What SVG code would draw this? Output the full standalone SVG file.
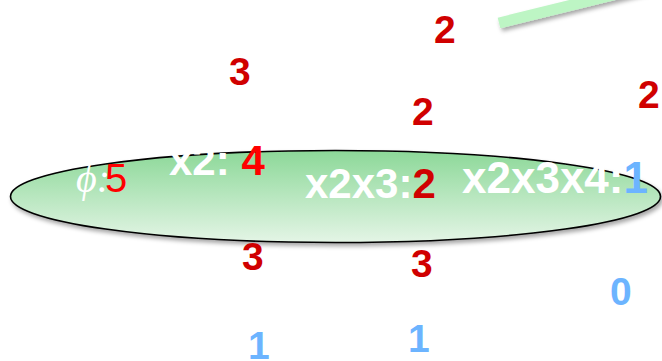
<svg xmlns="http://www.w3.org/2000/svg" width="662" height="361" viewBox="0 0 662 361">
  <defs>
    <linearGradient id="g" x1="0" y1="0" x2="0" y2="1">
      <stop offset="0" stop-color="#8cd898"/>
      <stop offset="1" stop-color="#e4f5e6"/>
    </linearGradient>
    <filter id="sh" x="-10%" y="-30%" width="120%" height="170%">
      <feDropShadow dx="2" dy="3" stdDeviation="2" flood-color="#000" flood-opacity="0.35"/>
    </filter>
  </defs>
  <style>
    .b { font-family: "Liberation Sans", Arial, sans-serif; font-weight: bold; font-size: 39px; }
    .in { font-size: 42px; }
    .in2 { font-size: 44px; }
    .w { fill: #ffffff; }
    .dr { fill: #d00000; }
    .r { fill: #ff0000; }
    .bl { fill: #6cb4ff; }
  </style>
  <rect width="662" height="361" fill="#ffffff"/>
  <g id="bar">
    <line x1="499" y1="23" x2="690" y2="-24" stroke="#bdf5c4" stroke-width="11" filter="url(#sh)"/>
  </g>
  <g id="ellipse">
    <ellipse cx="335.5" cy="196.5" rx="325" ry="46" fill="url(#g)" stroke="#000" stroke-width="1.6" filter="url(#sh)"/>
  </g>
  <g id="labels-inside">
    <text x="76" y="192" fill="#fff" font-family="Liberation Serif, serif" font-style="italic" font-size="40">ϕ:</text>
    <text x="105" y="192" class="r" font-family="Liberation Sans, Arial, sans-serif" font-size="40">5</text>
    <text x="169" y="175" class="b in w">x2: <tspan class="r">4</tspan></text>
    <text x="305" y="198" class="b in w">x2x3:<tspan class="dr">2</tspan></text>
    <text x="462" y="193" class="b in2 w">x2x3x4:<tspan class="bl">1</tspan></text>
  </g>
  <g id="numbers">
    <text x="434" y="43" class="b dr">2</text>
    <text x="229" y="85" class="b dr">3</text>
    <text x="412" y="125" class="b dr">2</text>
    <text x="638" y="108" class="b dr">2</text>
    <text x="242" y="270" class="b dr">3</text>
    <text x="411" y="277" class="b dr">3</text>
    <text x="610" y="305" class="b bl">0</text>
    <text x="248" y="359" class="b bl">1</text>
    <text x="408" y="352" class="b bl">1</text>
  </g>
</svg>
